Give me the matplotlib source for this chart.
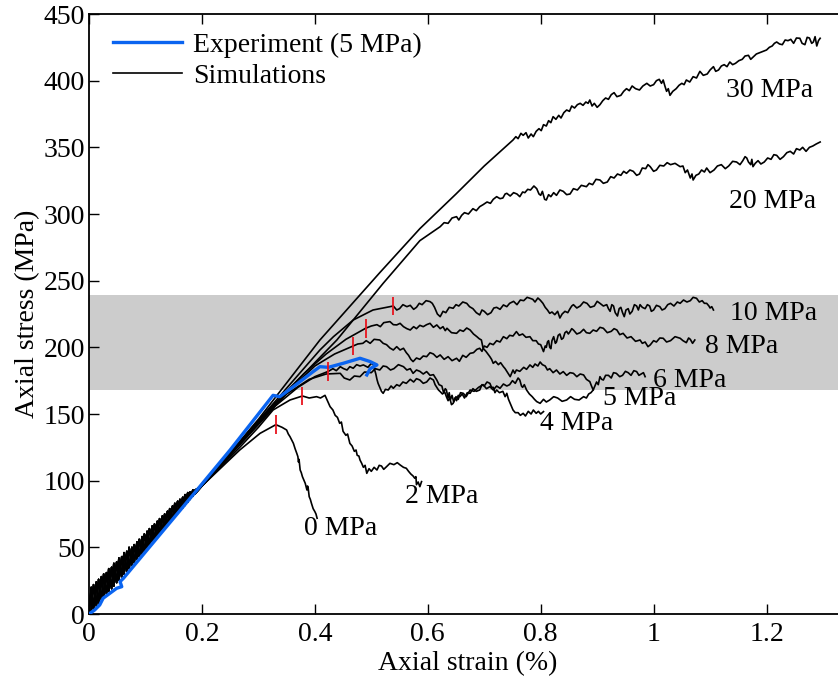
import matplotlib
matplotlib.use("Agg")
import matplotlib.pyplot as plt
import numpy as np

plt.rcParams['font.family'] = ['Liberation Serif', 'DejaVu Serif']
plt.rcParams['font.size'] = 20

# initial loading (serrated start, shared by the simulations)
init_strain = [0.000, 0.004, 0.008, 0.013, 0.017, 0.022, 0.026, 0.031, 0.035, 0.040, 0.044,
               0.049, 0.053, 0.058, 0.062, 0.067, 0.071, 0.076, 0.080, 0.085, 0.089, 0.094,
               0.098, 0.103, 0.107, 0.112, 0.116, 0.121, 0.125, 0.130, 0.134, 0.139, 0.143,
               0.148, 0.152, 0.157, 0.161, 0.166, 0.170, 0.175, 0.179, 0.184, 0.188, 0.200]
init_a = [0, 20, 4, 24, 8, 28, 12.5, 31, 17, 35, 21, 39, 25.5, 43, 30, 47, 34, 50, 38.5, 54, 43,
          58, 47, 62, 51.5, 66, 55.5, 69.5, 60, 73.5, 64.5, 77, 68.5, 81, 73, 84.5, 77.5, 87.5,
          81.5, 91, 86, 93, 90.2, 96]
init_b = [0, 2, 22, 6, 26, 10.6, 30, 15, 34, 19, 38, 23.5, 42, 28, 46, 32, 50, 36.5, 52, 41, 56,
          45, 60, 49.4, 64, 54, 67.5, 58, 71.5, 62.4, 75, 67, 79, 71, 83, 75.4, 86, 79.7, 89.5,
          84, 91.5, 88.3, 93, 96]

# simulations after the serrated start: (strain %, stress MPa)
sim_30 = [(0.30, 146), (0.409, 205.5), (0.515, 256), (0.586, 289), (0.65, 315), (0.70, 336),
          (0.751, 355.5), (0.756, 358), (0.760, 356.5), (0.765, 360.5), (0.769, 359), (0.774, 361),
          (0.778, 357), (0.783, 360), (0.787, 358), (0.792, 362), (0.797, 364), (0.801, 362.5),
          (0.805, 367), (0.810, 366), (0.814, 370), (0.818, 368.5), (0.822, 373), (0.827, 371),
          (0.832, 374), (0.836, 372), (0.841, 376), (0.846, 378), (0.851, 377), (0.855, 381),
          (0.860, 379.5), (0.865, 382), (0.870, 383), (0.875, 381.5), (0.880, 384), (0.884, 383),
          (0.887, 385.5), (0.891, 381), (0.895, 383), (0.900, 380), (0.905, 382), (0.910, 385),
          (0.915, 387), (0.920, 386), (0.925, 389.5), (0.930, 391), (0.935, 388), (0.942, 389),
          (0.947, 392), (0.952, 394), (0.957, 392.5), (0.962, 396), (0.968, 394), (0.975, 393),
          (0.981, 396), (0.988, 398), (0.994, 396), (1.000, 397), (1.005, 400), (1.010, 401),
          (1.014, 398), (1.017, 400.5), (1.020, 396), (1.023, 392), (1.026, 394), (1.029, 389),
          (1.034, 392), (1.040, 394), (1.045, 396.5), (1.050, 398), (1.054, 397), (1.058, 400.5),
          (1.064, 399), (1.070, 403), (1.076, 402), (1.082, 407), (1.088, 404), (1.095, 405),
          (1.100, 408), (1.106, 410.5), (1.110, 407), (1.115, 408), (1.120, 411), (1.125, 412),
          (1.130, 410.5), (1.135, 414), (1.140, 412), (1.145, 413), (1.151, 415), (1.157, 416),
          (1.162, 418.5), (1.168, 419), (1.172, 416), (1.177, 418), (1.182, 420), (1.188, 421),
          (1.194, 422), (1.200, 423), (1.205, 425), (1.210, 426), (1.214, 428), (1.218, 429),
          (1.223, 427.5), (1.228, 427), (1.233, 430.5), (1.238, 430), (1.243, 431), (1.248, 428),
          (1.253, 432), (1.259, 431.8), (1.263, 428), (1.268, 427), (1.272, 432.5), (1.276, 432),
          (1.280, 428), (1.283, 429), (1.286, 433), (1.289, 426), (1.292, 430), (1.295, 431.8)]
sim_20 = [(0.30, 145), (0.439, 205.5), (0.521, 248), (0.586, 280), (0.622, 290.5), (0.629, 293.5),
          (0.636, 293), (0.643, 297), (0.651, 298), (0.655, 295.5), (0.660, 299), (0.665, 301),
          (0.672, 300), (0.680, 304), (0.686, 302.5), (0.692, 305.5), (0.698, 307), (0.705, 309),
          (0.711, 308), (0.716, 311), (0.722, 313), (0.728, 311.5), (0.733, 312), (0.737, 315),
          (0.740, 315.5), (0.746, 313.5), (0.752, 316), (0.758, 315), (0.763, 313), (0.768, 316.5),
          (0.772, 316), (0.777, 318.5), (0.782, 318), (0.788, 321), (0.793, 319), (0.797, 315),
          (0.800, 314), (0.803, 317), (0.807, 311), (0.810, 310.5), (0.814, 314.5), (0.818, 313),
          (0.823, 316), (0.828, 314), (0.834, 318), (0.840, 317), (0.846, 314.5), (0.852, 315),
          (0.858, 319), (0.865, 318), (0.872, 321.5), (0.881, 320.5), (0.886, 323), (0.892, 322),
          (0.898, 326), (0.905, 325.5), (0.911, 323), (0.918, 324), (0.924, 328), (0.930, 327),
          (0.936, 330), (0.942, 329), (0.947, 332), (0.952, 330.5), (0.958, 333), (0.964, 332),
          (0.970, 329), (0.975, 330), (0.980, 334.5), (0.986, 334), (0.990, 337), (0.994, 335.5),
          (1.000, 332), (1.005, 333), (1.011, 336.5), (1.018, 336), (1.024, 338.5), (1.030, 337),
          (1.038, 338), (1.047, 335.5), (1.052, 336), (1.056, 331), (1.060, 333), (1.065, 327),
          (1.068, 330), (1.070, 325.5), (1.075, 329), (1.080, 330), (1.085, 333), (1.090, 331.5),
          (1.094, 334.5), (1.100, 331), (1.107, 333), (1.113, 336), (1.120, 337), (1.127, 334),
          (1.133, 336), (1.140, 339.5), (1.147, 339), (1.153, 337), (1.158, 340), (1.162, 343),
          (1.165, 342), (1.168, 339), (1.172, 337), (1.174, 341), (1.176, 335.5), (1.180, 338),
          (1.185, 340), (1.190, 337.5), (1.196, 339), (1.202, 342), (1.208, 341), (1.213, 344.5),
          (1.218, 344), (1.224, 341), (1.230, 343), (1.236, 346), (1.242, 347), (1.248, 345),
          (1.253, 349), (1.259, 348), (1.264, 350), (1.270, 347), (1.276, 350), (1.282, 351),
          (1.288, 352.5), (1.295, 354)]
sim_10 = [(0.30, 145), (0.409, 198), (0.433, 208), (0.468, 220.5), (0.503, 228), (0.539, 231),
          (0.545, 228), (0.550, 229), (0.556, 232), (0.563, 230.5), (0.569, 231.5), (0.575, 228.5),
          (0.580, 230), (0.585, 233), (0.590, 232), (0.597, 235), (0.604, 234.3), (0.608, 233),
          (0.612, 230), (0.617, 225), (0.622, 223), (0.627, 227), (0.632, 226), (0.638, 230),
          (0.645, 229.3), (0.650, 232), (0.655, 231), (0.662, 234), (0.669, 233), (0.674, 230.5),
          (0.680, 229), (0.686, 226), (0.692, 224.3), (0.696, 228), (0.700, 227), (0.706, 224.5),
          (0.712, 226), (0.717, 229.5), (0.722, 230), (0.728, 228.5), (0.734, 231.8), (0.740, 230.5),
          (0.745, 233), (0.752, 234.5), (0.758, 232), (0.764, 235.5), (0.770, 235), (0.776, 237.5),
          (0.781, 236.8), (0.786, 236), (0.790, 234), (0.795, 237), (0.799, 235.5), (0.804, 233),
          (0.808, 230), (0.812, 228), (0.816, 225.5), (0.820, 226.5), (0.825, 224.5), (0.830, 227),
          (0.834, 222), (0.838, 225), (0.843, 227), (0.848, 226), (0.852, 229), (0.855, 231),
          (0.858, 232), (0.864, 229.5), (0.870, 231), (0.876, 234), (0.882, 233), (0.888, 230),
          (0.895, 231), (0.900, 234.5), (0.905, 233), (0.911, 231), (0.917, 232), (0.920, 229),
          (0.923, 227), (0.926, 232), (0.929, 231), (0.932, 226), (0.936, 223.5), (0.939, 229),
          (0.942, 230), (0.945, 226), (0.948, 223), (0.951, 228), (0.955, 229), (0.958, 225),
          (0.962, 227), (0.966, 232), (0.970, 231), (0.973, 228), (0.976, 232), (0.980, 230),
          (0.985, 229), (0.989, 232), (0.993, 231), (0.996, 227), (1.000, 228), (1.005, 231.5),
          (1.011, 230.5), (1.015, 228), (1.020, 229), (1.025, 232), (1.030, 233), (1.036, 231),
          (1.042, 234), (1.047, 233), (1.053, 235.5), (1.059, 234), (1.065, 235), (1.070, 237.5),
          (1.076, 236.8), (1.081, 234), (1.086, 235), (1.090, 233), (1.094, 233), (1.098, 231),
          (1.100, 229.5), (1.103, 230.5), (1.106, 228)]
sim_8 = [(0.30, 144), (0.36, 170), (0.40, 186), (0.435, 195), (0.468, 201), (0.476, 202.5),
         (0.485, 203), (0.491, 205), (0.498, 203), (0.505, 206), (0.515, 205.5), (0.521, 203),
         (0.527, 202), (0.533, 199.5), (0.539, 198), (0.545, 200.5), (0.551, 198), (0.557, 199.3),
         (0.562, 196), (0.566, 194), (0.570, 191), (0.574, 189.3), (0.580, 192), (0.586, 191),
         (0.592, 193.5), (0.598, 193), (0.604, 196), (0.610, 195), (0.616, 192.5), (0.622, 194.3),
         (0.629, 191), (0.636, 193), (0.643, 190), (0.651, 191.8), (0.656, 189.5), (0.662, 194),
         (0.668, 192.5), (0.675, 195.5), (0.681, 196), (0.687, 198.5), (0.692, 199.3), (0.696, 197),
         (0.700, 201), (0.705, 200), (0.710, 203), (0.716, 202), (0.722, 205), (0.728, 204),
         (0.734, 208), (0.740, 206.5), (0.745, 209), (0.751, 208.5), (0.757, 211.8), (0.762, 209),
         (0.768, 210), (0.774, 207.5), (0.781, 208), (0.786, 205), (0.792, 205), (0.796, 202.5),
         (0.800, 202), (0.803, 199), (0.805, 196.8), (0.808, 201), (0.810, 200), (0.812, 204),
         (0.814, 205), (0.816, 200), (0.818, 199), (0.820, 205), (0.823, 208), (0.826, 203),
         (0.828, 204), (0.831, 209), (0.834, 210), (0.837, 206), (0.840, 207), (0.843, 211),
         (0.846, 212), (0.849, 210), (0.852, 211.8), (0.855, 214), (0.858, 213), (0.864, 210),
         (0.870, 211), (0.876, 213.5), (0.881, 211), (0.887, 210.5), (0.893, 213), (0.899, 212),
         (0.905, 215), (0.911, 214.3), (0.918, 211), (0.925, 212), (0.930, 214), (0.935, 213),
         (0.940, 209.5), (0.946, 210.5), (0.953, 207), (0.960, 208), (0.968, 204.5), (0.976, 205.5),
         (0.980, 203), (0.985, 204), (0.990, 200.5), (0.994, 201.8), (1.000, 205), (1.005, 204),
         (1.011, 207), (1.017, 206.8), (1.023, 204), (1.030, 205), (1.038, 208), (1.047, 206.8),
         (1.052, 205), (1.058, 203.5), (1.062, 207), (1.065, 206), (1.069, 203), (1.073, 205.5)]
sim_6 = [(0.30, 145), (0.38, 180), (0.42, 195), (0.455, 206), (0.490, 214.3), (0.500, 216),
         (0.510, 217), (0.516, 215.5), (0.522, 218.5), (0.533, 219.3), (0.539, 217), (0.545, 216.8),
         (0.551, 218), (0.557, 215.5), (0.563, 214), (0.569, 213), (0.575, 215.5), (0.580, 214),
         (0.586, 216.5), (0.592, 215.5), (0.598, 217), (0.604, 218), (0.610, 215), (0.616, 216.8),
         (0.622, 214), (0.627, 215.5), (0.631, 212.5), (0.634, 214.3), (0.642, 211), (0.651, 210.5),
         (0.657, 213), (0.663, 212), (0.669, 214.5), (0.675, 213), (0.681, 210), (0.687, 208),
         (0.691, 206.5), (0.695, 205.5), (0.698, 199.3), (0.703, 197), (0.710, 193), (0.713, 191),
         (0.716, 188), (0.720, 189.5), (0.725, 187), (0.729, 188.5), (0.734, 185.5), (0.737, 184),
         (0.740, 182), (0.743, 180), (0.746, 178), (0.749, 181), (0.751, 183), (0.754, 180.5),
         (0.757, 183), (0.763, 182), (0.770, 185), (0.775, 183.5), (0.781, 186.8), (0.786, 185),
         (0.790, 187.5), (0.795, 186), (0.799, 189), (0.803, 187), (0.808, 186), (0.812, 183),
         (0.816, 184), (0.822, 181), (0.828, 183), (0.834, 180), (0.840, 181.8), (0.846, 179),
         (0.852, 181), (0.858, 180.5), (0.864, 178), (0.870, 180), (0.876, 179.3), (0.881, 176),
         (0.887, 174.3), (0.890, 171), (0.893, 168), (0.896, 171), (0.899, 174), (0.902, 172),
         (0.905, 178), (0.908, 176), (0.911, 175.5), (0.915, 179), (0.920, 179), (0.925, 177),
         (0.929, 181), (0.934, 180.5), (0.940, 178), (0.945, 179), (0.950, 182), (0.955, 181),
         (0.960, 179), (0.965, 182.5), (0.970, 181.8), (0.974, 179), (0.978, 180), (0.982, 181),
         (0.985, 178)]
sim_5 = [(0.30, 143), (0.35, 165), (0.39, 176), (0.42, 180), (0.445, 180.5), (0.452, 177),
         (0.462, 175.5), (0.470, 178.5), (0.480, 178), (0.488, 181.5), (0.500, 181), (0.507, 184),
         (0.515, 183), (0.521, 186), (0.527, 185.5), (0.534, 183), (0.540, 184), (0.548, 187),
         (0.557, 185.5), (0.563, 183), (0.569, 184), (0.574, 180.5), (0.580, 183), (0.586, 182),
         (0.592, 180), (0.598, 181.8), (0.604, 179), (0.610, 179.5), (0.616, 175.5), (0.620, 172),
         (0.625, 171), (0.628, 166), (0.631, 169), (0.633, 168), (0.636, 162), (0.638, 166),
         (0.640, 160.5), (0.643, 164), (0.646, 159), (0.650, 163), (0.654, 161), (0.658, 166),
         (0.663, 165.5), (0.668, 163), (0.675, 168), (0.682, 167), (0.690, 170), (0.698, 172),
         (0.704, 169), (0.710, 170.5), (0.716, 168), (0.722, 171), (0.728, 169.3), (0.734, 172.5),
         (0.740, 171), (0.745, 172), (0.750, 175), (0.755, 173), (0.760, 177), (0.763, 175.5),
         (0.766, 171), (0.768, 170), (0.771, 172), (0.775, 168), (0.780, 165), (0.785, 163),
         (0.789, 161), (0.793, 159.3), (0.799, 158), (0.805, 161), (0.810, 159), (0.816, 160.5),
         (0.823, 163), (0.830, 162), (0.838, 159.5), (0.846, 160.5), (0.853, 163), (0.860, 161),
         (0.868, 160.5), (0.876, 163), (0.881, 162), (0.885, 165), (0.889, 166), (0.893, 168)]
sim_4 = [(0.30, 142), (0.33, 156), (0.37, 170), (0.40, 178), (0.424, 182), (0.432, 184),
         (0.438, 182.5), (0.445, 185.5), (0.451, 184), (0.457, 183), (0.462, 185.5), (0.468, 184.3),
         (0.474, 187), (0.480, 186), (0.486, 186.8), (0.494, 185), (0.500, 188), (0.504, 186.8),
         (0.506, 183), (0.508, 180), (0.510, 176), (0.512, 173), (0.515, 170), (0.518, 167),
         (0.521, 165.5), (0.525, 168.5), (0.530, 168), (0.535, 171), (0.539, 169.3), (0.545, 172),
         (0.550, 171), (0.556, 174), (0.562, 173), (0.569, 176), (0.575, 174), (0.580, 176.5),
         (0.586, 175.5), (0.592, 173), (0.598, 174), (0.604, 177), (0.610, 175.5), (0.613, 172),
         (0.616, 170), (0.619, 168), (0.622, 166.8), (0.626, 165), (0.630, 166.5), (0.633, 163),
         (0.636, 160), (0.639, 162), (0.642, 157), (0.645, 158), (0.648, 162), (0.651, 160),
         (0.654, 164), (0.657, 163), (0.661, 165), (0.665, 162), (0.670, 166), (0.675, 165.5),
         (0.680, 169), (0.686, 167), (0.692, 168), (0.696, 172), (0.700, 171), (0.705, 174),
         (0.710, 173), (0.713, 170), (0.716, 170), (0.719, 166), (0.722, 168), (0.727, 166),
         (0.733, 167), (0.737, 163), (0.740, 165.5), (0.743, 161), (0.746, 158), (0.749, 155),
         (0.751, 153), (0.755, 151), (0.760, 151), (0.764, 149), (0.769, 150.5), (0.773, 148.5),
         (0.778, 152), (0.783, 150), (0.787, 153), (0.792, 150.5), (0.796, 152), (0.800, 150),
         (0.805, 151.8)]
sim_2 = [(0.267, 125), (0.30, 140), (0.326, 153), (0.356, 160.5), (0.378, 163.5), (0.390, 162),
         (0.403, 163), (0.410, 162), (0.418, 164), (0.427, 155.5), (0.432, 153), (0.436, 149),
         (0.440, 147.5), (0.444, 143), (0.447, 144), (0.450, 137), (0.455, 134), (0.458, 135),
         (0.462, 128), (0.466, 126), (0.470, 122), (0.473, 123), (0.475, 119), (0.478, 118.5),
         (0.480, 115.5), (0.483, 113), (0.486, 110), (0.489, 111.5), (0.492, 105.5), (0.496, 109),
         (0.500, 107), (0.505, 110), (0.510, 108), (0.514, 111.5), (0.518, 111), (0.522, 108.5),
         (0.527, 110.5), (0.533, 113), (0.540, 112), (0.546, 113.5), (0.551, 111.8), (0.557, 110),
         (0.562, 109.3), (0.566, 107), (0.570, 105), (0.574, 103.5), (0.577, 101.8), (0.579, 103),
         (0.580, 97), (0.583, 99), (0.586, 95.5), (0.589, 99.3)]
sim_0 = [(0.267, 123), (0.303, 135.5), (0.331, 142), (0.342, 140), (0.350, 138), (0.353, 135),
         (0.356, 133), (0.359, 130.5), (0.362, 128), (0.365, 124), (0.368, 120.5), (0.370, 118),
         (0.371, 114), (0.372, 116), (0.374, 108), (0.376, 106), (0.378, 103), (0.380, 101),
         (0.383, 98), (0.386, 93), (0.387, 96), (0.388, 95), (0.390, 88), (0.392, 86), (0.394, 83),
         (0.397, 79), (0.400, 76.8), (0.402, 75), (0.404, 71.8)]

# experiment, 5 MPa confinement
exp_5 = [(0.0, 0), (0.010, 3), (0.019, 6.8), (0.025, 11.8), (0.049, 19.3), (0.058, 20.5),
         (0.055, 24.3), (0.061, 26.8), (0.160, 77), (0.250, 123), (0.326, 164), (0.338, 163),
         (0.362, 170.5), (0.397, 181.8), (0.409, 185.5), (0.424, 185), (0.450, 188),
         (0.480, 191.8), (0.498, 189.3), (0.510, 186.8), (0.498, 184), (0.492, 179.3)]

# peak markers
peak_strain = [0.331, 0.378, 0.424, 0.468, 0.490, 0.539]
peak_stress = [142, 163.5, 182, 201, 214.3, 231]

sims = [(sim_0, init_a), (sim_2, init_b), (sim_4, init_a), (sim_5, init_b), (sim_6, init_a),
        (sim_8, init_b), (sim_10, init_a), (sim_20, init_b), (sim_30, init_a)]

labels = ["0 MPa", "2 MPa", "4 MPa", "5 MPa", "6 MPa", "8 MPa", "10 MPa", "20 MPa", "30 MPa"]
label_x = [0.380, 0.560, 0.799, 0.911, 0.999, 1.091, 1.135, 1.134, 1.129]
label_y = [59.3, 83, 138, 156.8, 170.5, 195.8, 220.5, 304.5, 387.8]

band = (168, 239)

fig = plt.figure(figsize=(8.38, 6.79), dpi=100)
ax = fig.add_axes([89 / 838, 65 / 679, 749 / 838, 600 / 679])

ax.axhspan(band[0], band[1], color='#cccccc', lw=0, zorder=0)

for k, (pts, init) in enumerate(sims):
    p = np.array(pts)
    x = np.concatenate([init_strain, p[:, 0]])
    y = np.concatenate([init, p[:, 1]])
    ax.plot(x, y, color='k', lw=1.2, zorder=2, label="Simulations" if k == 0 else None)

e = np.array(exp_5)
ax.plot(e[:, 0], e[:, 1], color='#0a64f0', lw=2.4, zorder=3, label="Experiment (5 MPa)")

ax.vlines(peak_strain, np.array(peak_stress) - 7, np.array(peak_stress) + 7,
          color='#e8141e', lw=1.3, zorder=4)

for t, lx, ly in zip(labels, label_x, label_y):
    ax.text(lx, ly, t, ha='left', va='baseline', fontsize=20, zorder=5)

ax.set_xlim(0, 1.3266)
ax.set_ylim(0, 450)
ax.set_xticks([0, 0.2, 0.4, 0.6, 0.8, 1, 1.2])
ax.set_xticklabels(["0", "0.2", "0.4", "0.6", "0.8", "1", "1.2"])
ax.set_yticks(np.arange(0, 451, 50))
ax.tick_params(axis='x', direction='in', length=7, width=1, top=True, pad=6, labelsize=20)
ax.tick_params(axis='y', direction='in', length=7, width=1, right=False, pad=3, labelsize=20)
ax.spines['right'].set_visible(False)
for s in ['left', 'bottom', 'top']:
    ax.spines[s].set_linewidth(1.3)

ax.set_xlabel("Axial strain (%)", fontsize=20)
ax.set_ylabel("Axial stress (MPa)", fontsize=20)
ax.xaxis.set_label_coords(0.505, -0.062)
ax.yaxis.set_label_coords(-0.065, 0.5)

h, l = ax.get_legend_handles_labels()
ax.legend(h[::-1], l[::-1], loc='upper left', frameon=False, fontsize=20,
          handlelength=2.5, handletextpad=0.4, labelspacing=0.22,
          borderaxespad=0.2, bbox_to_anchor=(7 / 749, 0.9975))

fig.savefig("out.png", dpi=100)
